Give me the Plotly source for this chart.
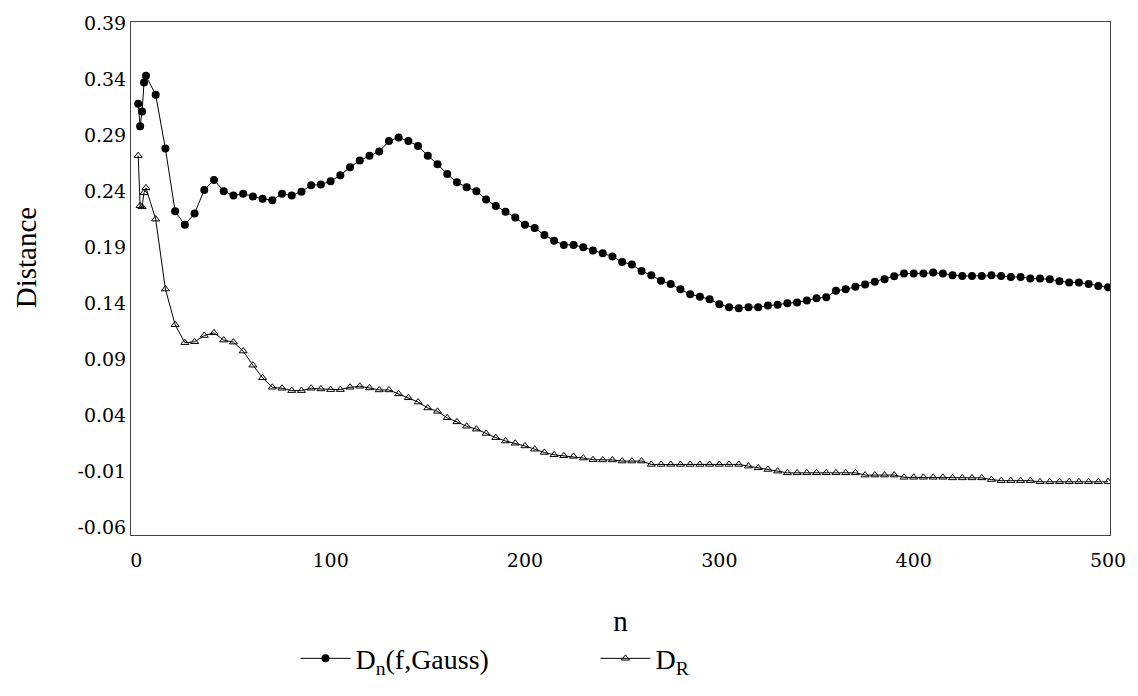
import plotly.graph_objects as go

n_vals = [1, 2, 3, 4, 5] + list(range(10, 505, 5))

dn_gauss = [0.318, 0.298, 0.311, 0.337, 0.343,
            0.326, 0.278, 0.222, 0.210, 0.220, 0.241, 0.250, 0.240, 0.236, 0.2376,
            0.2353, 0.2332, 0.2318, 0.2376, 0.2362, 0.2395, 0.2453, 0.2459, 0.2488, 0.2541,
            0.2614, 0.2673, 0.2715, 0.2753, 0.2847, 0.2879, 0.2847, 0.2803, 0.2717, 0.2641,
            0.2552, 0.2479, 0.2435, 0.2400, 0.2326, 0.2267, 0.2217, 0.2164, 0.2100, 0.2070,
            0.2009, 0.1958, 0.1920, 0.1920, 0.1899, 0.1870, 0.1846, 0.1817, 0.1767, 0.1746,
            0.1687, 0.1649, 0.1599, 0.1570, 0.1523, 0.1479, 0.1458, 0.1435, 0.1391, 0.1364,
            0.1355, 0.1364, 0.1364, 0.1378, 0.1385, 0.1400, 0.1405, 0.1423, 0.1444, 0.1453,
            0.1511, 0.1523, 0.1546, 0.1567, 0.1590, 0.1614, 0.1641, 0.1664, 0.1664, 0.1664,
            0.1673, 0.1664, 0.1649, 0.1643, 0.1643, 0.1643, 0.1649, 0.1643, 0.1634, 0.1634,
            0.1620, 0.1620, 0.1614, 0.1596, 0.1585, 0.1585, 0.1570, 0.1552, 0.1541]

d_r = [0.2717, 0.227, 0.226, 0.2385, 0.2429,
       0.215, 0.1526, 0.1208, 0.1047, 0.1055, 0.1111, 0.1135, 0.107, 0.1052, 0.0972,
       0.0846, 0.0734, 0.0649, 0.0640, 0.0619, 0.0619, 0.0640, 0.0634, 0.0628, 0.0628,
       0.0649, 0.0658, 0.0643, 0.0625, 0.0625, 0.0590, 0.0555, 0.0517, 0.0464, 0.0434,
       0.0376, 0.0340, 0.0301, 0.0275, 0.0237, 0.0199, 0.0169, 0.0149, 0.0125, 0.0096,
       0.0067, 0.0046, 0.0037, 0.0032, 0.0017, 0.0002, 0.000, 0.000, -0.001, -0.001,
       -0.001, -0.004, -0.004, -0.004, -0.004, -0.004, -0.004, -0.004, -0.004, -0.004,
       -0.004, -0.0055, -0.007, -0.0085, -0.010, -0.0115, -0.0115, -0.0115, -0.0115, -0.0115,
       -0.0115, -0.0115, -0.0115, -0.0135, -0.0135, -0.0135, -0.0135, -0.0155, -0.0155, -0.0155,
       -0.0155, -0.0155, -0.016, -0.016, -0.016, -0.016, -0.0175, -0.0185, -0.0185, -0.0185,
       -0.0185, -0.0195, -0.0195, -0.0195, -0.0195, -0.0195, -0.0195, -0.0195, -0.0195]

y_ticks = [0.39, 0.34, 0.29, 0.24, 0.19, 0.14, 0.09, 0.04, -0.01, -0.06]
y_tick_labels = ["0.39", "0.34", "0.29", "0.24", "0.19", "0.14", "0.09", "0.04", "-0.01", "-0.06"]
x_ticks = [0, 100, 200, 300, 400, 500]

series_names = ["D<sub>n</sub>(f,Gauss)", "D<sub>R</sub>"]
y_title = "Distance"
x_title = "n"

SERIF = "Liberation Serif"
TICKFONT = "DejaVu Serif"

fig = go.Figure()
fig.add_trace(go.Scatter(
    x=n_vals, y=dn_gauss, name=series_names[0], mode="lines+markers",
    line=dict(color="black", width=1),
    marker=dict(symbol="circle", size=8, color="black"),
))
fig.add_trace(go.Scatter(
    x=n_vals, y=d_r, name=series_names[1], mode="lines+markers",
    line=dict(color="black", width=1),
    marker=dict(symbol="triangle-up-open", size=7, color="black", line=dict(width=1, color="black")),
))

fig.add_annotation(text=y_title, xref="paper", yref="paper", x=-0.107, y=0.54,
                   textangle=-90, showarrow=False, xanchor="center", yanchor="middle",
                   font=dict(family=SERIF, size=29, color="black"))

fig.update_layout(
    width=1138, height=696,
    margin=dict(l=131, r=22, t=19, b=158),
    paper_bgcolor="white", plot_bgcolor="white",
    font=dict(family=SERIF, color="black", size=20),
    showlegend=True,
    legend=dict(orientation="h", x=0.168, xanchor="left", y=-0.241, yanchor="middle",
                font=dict(family=SERIF, size=28), itemwidth=50,
                entrywidth=235, entrywidthmode="pixels",
                bgcolor="rgba(0,0,0,0)"),
    xaxis=dict(range=[-2.7, 501], tickvals=x_ticks, showgrid=False, zeroline=False,
               showline=True, linecolor="#444", linewidth=1, mirror=True, ticks="",
               ticklabelstandoff=8,
               tickfont=dict(family=TICKFONT, size=19),
               title=dict(text=x_title, font=dict(family=SERIF, size=29), standoff=40)),
    yaxis=dict(range=[-0.067, 0.391], tickvals=y_ticks, ticktext=y_tick_labels,
               showgrid=False, zeroline=False,
               showline=True, linecolor="#444", linewidth=1, mirror=True, ticks="",
               tickfont=dict(family=TICKFONT, size=19)),
)

fig.write_html("out.html")
